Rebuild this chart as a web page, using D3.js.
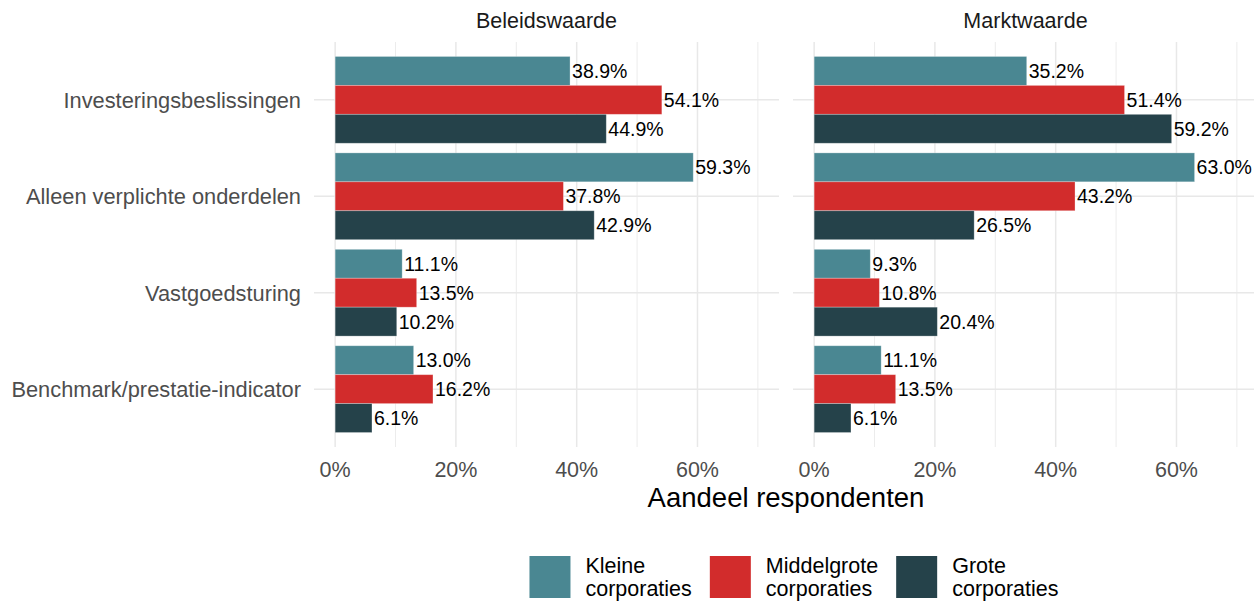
<!DOCTYPE html>
<html>
<head>
<meta charset="utf-8">
<script src="https://cdn.jsdelivr.net/npm/d3@7"></script>
<style>
  body { margin: 0; background: #fff; }
  svg { font-family: "Liberation Sans", Arial, sans-serif; }
</style>
</head>
<body>
<div id="chart"></div>
<script>
// categories, facets, series
const categories = ["Investeringsbeslissingen", "Alleen verplichte onderdelen", "Vastgoedsturing", "Benchmark/prestatie-indicator"];
const facets = ["Beleidswaarde", "Marktwaarde"];
const seriesNames = ["Kleine corporaties", "Middelgrote corporaties", "Grote corporaties"];
const seriesColors = ["#4a8792", "#d22c2c", "#25424a"];

// values in % per facet, per series (order of categories)
const beleidKleine = [38.9, 59.3, 11.1, 13.0];
const beleidMiddel = [54.1, 37.8, 13.5, 16.2];
const beleidGrote = [44.9, 42.9, 10.2, 6.1];
const marktKleine = [35.2, 63.0, 9.3, 11.1];
const marktMiddel = [51.4, 43.2, 10.8, 13.5];
const marktGrote = [59.2, 26.5, 20.4, 6.1];

const xTicks = [0, 20, 40, 60];
const xMinor = [10, 30, 50, 70];

const facetValues = {
  "Beleidswaarde": [beleidKleine, beleidMiddel, beleidGrote],
  "Marktwaarde": [marktKleine, marktMiddel, marktGrote]
};

const W = 1254, H = 602;
const svg = d3.select("#chart").append("svg")
  .attr("width", W).attr("height", H);

const panelTop = 42, panelBottom = 447;
const panels = [
  { name: facets[0], x0: 314, x1: 779 },
  { name: facets[1], x0: 793, x1: 1258 }
];

const y = d3.scalePoint()
  .domain(categories)
  .range([panelTop, panelBottom])
  .padding(0.6);
const step = y.step();

const inner = d3.scaleBand()
  .domain(seriesNames)
  .range([-0.45 * step, 0.45 * step])
  .padding(0);

const color = d3.scaleOrdinal().domain(seriesNames).range(seriesColors);

panels.forEach(p => {
  const x = d3.scaleLinear().domain([-3.5, 73.5]).range([p.x0, p.x1]);
  const g = svg.append("g");

  // minor grid
  g.selectAll("line.minor").data(xMinor).enter().append("line")
    .attr("x1", d => x(d)).attr("x2", d => x(d))
    .attr("y1", panelTop).attr("y2", panelBottom)
    .attr("stroke", "#ececec").attr("stroke-width", 1);

  // major grid
  g.selectAll("line.major").data(xTicks).enter().append("line")
    .attr("x1", d => x(d)).attr("x2", d => x(d))
    .attr("y1", panelTop).attr("y2", panelBottom)
    .attr("stroke", "#e8e8e8").attr("stroke-width", 1.5);

  g.selectAll("line.hgrid").data(categories).enter().append("line")
    .attr("x1", p.x0).attr("x2", p.x1)
    .attr("y1", d => y(d)).attr("y2", d => y(d))
    .attr("stroke", "#e8e8e8").attr("stroke-width", 1.5);

  // facet title
  g.append("text")
    .attr("x", (p.x0 + p.x1) / 2)
    .attr("y", 28)
    .attr("text-anchor", "middle")
    .attr("font-size", 21.5)
    .attr("fill", "#1a1a1a")
    .text(p.name);

  // bars
  const rows = [];
  seriesNames.forEach((s, si) => {
    categories.forEach((c, ci) => {
      rows.push({ series: s, cat: c, value: facetValues[p.name][si][ci] });
    });
  });

  g.selectAll("rect.bar").data(rows).enter().append("rect")
    .attr("x", x(0))
    .attr("y", d => y(d.cat) + inner(d.series))
    .attr("width", d => x(d.value) - x(0))
    .attr("height", inner.bandwidth())
    .attr("fill", d => color(d.series))
    .attr("stroke", "#ffffff")
    .attr("stroke-opacity", 0.35)
    .attr("stroke-width", 0.8);

  g.selectAll("text.val").data(rows).enter().append("text")
    .attr("x", d => x(d.value) + 2)
    .attr("y", d => y(d.cat) + inner(d.series) + inner.bandwidth() / 2)
    .attr("dy", "0.36em")
    .attr("font-size", 19.5)
    .attr("fill", "#000")
    .text(d => d.value.toFixed(1) + "%");

  // x axis tick labels
  g.selectAll("text.tick").data(xTicks).enter().append("text")
    .attr("x", d => x(d))
    .attr("y", 477)
    .attr("text-anchor", "middle")
    .attr("font-size", 21.5)
    .attr("fill", "#4d4d4d")
    .text(d => d + "%");
});

// category labels
svg.selectAll("text.cat").data(categories).enter().append("text")
  .attr("x", 301)
  .attr("y", d => y(d))
  .attr("dy", "0.36em")
  .attr("text-anchor", "end")
  .attr("font-size", 21.8)
  .attr("fill", "#4d4d4d")
  .text(d => d);

// axis title
svg.append("text")
  .attr("x", 786)
  .attr("y", 507)
  .attr("text-anchor", "middle")
  .attr("font-size", 27.5)
  .attr("fill", "#000")
  .text("Aandeel respondenten");

// legend
const keySize = 41, keyGap = 15, itemGap = 18;
const legend = svg.append("g");
let cx = 0;
seriesNames.forEach((s, i) => {
  const item = legend.append("g").attr("transform", `translate(${cx},0)`);
  item.append("rect")
    .attr("width", keySize).attr("height", 42)
    .attr("fill", color(s));
  const parts = s.split(" ");
  let maxW = 0;
  parts.forEach((w, j) => {
    const t = item.append("text")
      .attr("x", keySize + keyGap)
      .attr("y", 17 + j * 23)
      .attr("font-size", 21.5)
      .attr("fill", "#000")
      .text(w);
    maxW = Math.max(maxW, t.node().getComputedTextLength());
  });
  cx += keySize + keyGap + maxW + itemGap;
});
const legendW = cx - itemGap;
legend.attr("transform", `translate(${794 - legendW / 2},556)`);
</script>
</body>
</html>
